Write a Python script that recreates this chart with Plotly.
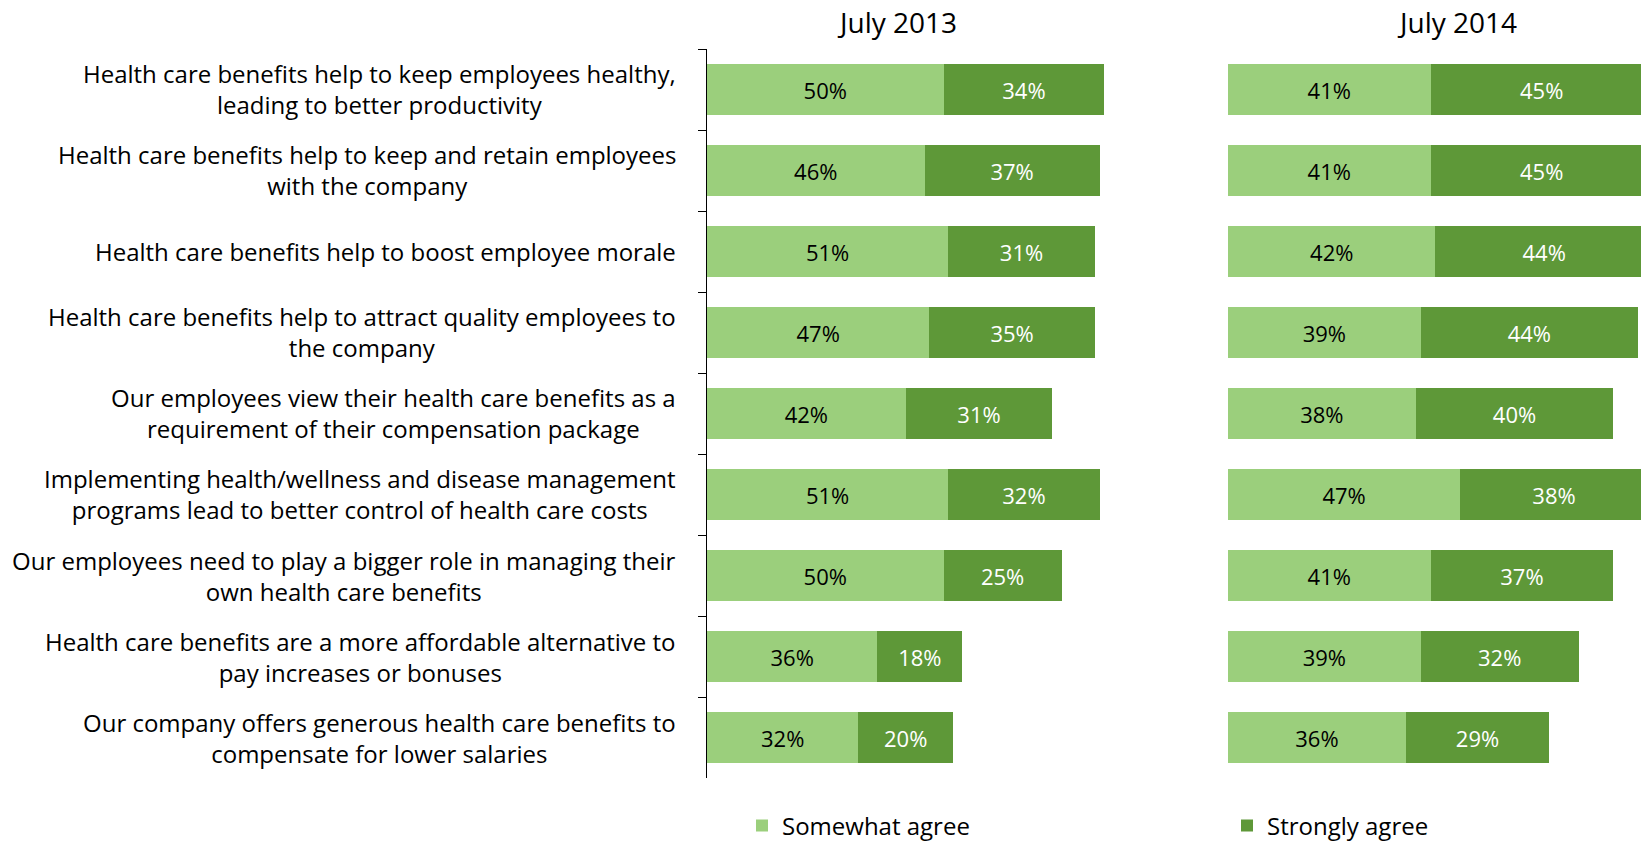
import plotly.graph_objects as go

categories = [
    "Health care benefits help to keep employees healthy,<br>leading to better productivity",
    "Health care benefits help to keep and retain employees<br>with the company",
    "Health care benefits help to boost employee morale",
    "Health care benefits help to attract quality employees to<br>the company",
    "Our employees view their health care benefits as a<br>requirement of their compensation package",
    "Implementing health/wellness and disease management<br>programs lead to better control of health care costs",
    "Our employees need to play a bigger role in managing their<br>own health care benefits",
    "Health care benefits are a more affordable alternative to<br>pay increases or bonuses",
    "Our company offers generous health care benefits to<br>compensate for lower salaries",
]
somewhat_2013 = [50, 46, 51, 47, 42, 51, 50, 36, 32]
strongly_2013 = [34, 37, 31, 35, 31, 32, 25, 18, 20]
somewhat_2014 = [41, 41, 42, 39, 38, 47, 41, 39, 36]
strongly_2014 = [45, 45, 44, 44, 40, 38, 37, 32, 29]
panel_titles = ["July 2013", "July 2014"]
series_names = ["Somewhat agree", "Strongly agree"]

LIGHT = "#9BCF7C"
DARK = "#5E9838"
FONT = "Open Sans"
W, H = 1641, 848

fig = go.Figure()

def add(vals, name, color, tcolor, xa, show):
    fig.add_trace(go.Bar(
        y=categories, x=vals, orientation="h", name=name,
        marker=dict(color=color, line=dict(width=0)),
        texttemplate="%{x}%", textposition="inside", insidetextanchor="middle",
        textfont=dict(family=FONT, size=22, color=tcolor),
        constraintext="none",
        xaxis=xa, yaxis="y", showlegend=show,
    ))

add(somewhat_2013, series_names[0], LIGHT, "black", "x", True)
add(strongly_2013, series_names[1], DARK, "white", "x", True)
add(somewhat_2014, series_names[0], LIGHT, "black", "x2", False)
add(strongly_2014, series_names[1], DARK, "white", "x2", False)

for c in categories:
    fig.add_annotation(x=678 / W, xref="paper", y=c, yref="y", text=c,
                       xanchor="right", yanchor="middle", align="center",
                       showarrow=False, font=dict(family=FONT, size=24, color="black"))

for t, xc in zip(panel_titles, [897, 1457]):
    fig.add_annotation(x=xc / W, xref="paper", y=1 - 22 / H, yref="paper", text=t,
                       xanchor="center", yanchor="middle", showarrow=False,
                       font=dict(family=FONT, size=28, color="black"))

x1_start, x1_end = 707, 1140
x2_start, x2_end = 1228, 1641
fig.update_layout(
    width=W, height=H,
    margin=dict(l=0, r=0, t=0, b=0, autoexpand=False),
    paper_bgcolor="white", plot_bgcolor="white",
    barmode="stack", bargap=0.37,
    xaxis=dict(domain=[x1_start / W, x1_end / W], range=[0, (x1_end - x1_start) / 4.73],
               visible=False),
    xaxis2=dict(domain=[x2_start / W, x2_end / W], range=[0, (x2_end - x2_start) / 4.94],
                visible=False, anchor="y"),
    yaxis=dict(domain=[70 / H, 799 / H], autorange="reversed", showticklabels=False,
               showline=True, linecolor="black", linewidth=1, ticks="outside",
               tickson="boundaries", ticklen=8, tickcolor="black", showgrid=False,
               zeroline=False),
    legend=dict(orientation="h", x=742 / W, xanchor="left", y=22 / H, yanchor="middle",
                font=dict(family=FONT, size=24, color="black"),
                entrywidth=440, entrywidthmode="pixels", traceorder="normal"),
    showlegend=True,
)

fig.write_html("out.html")
